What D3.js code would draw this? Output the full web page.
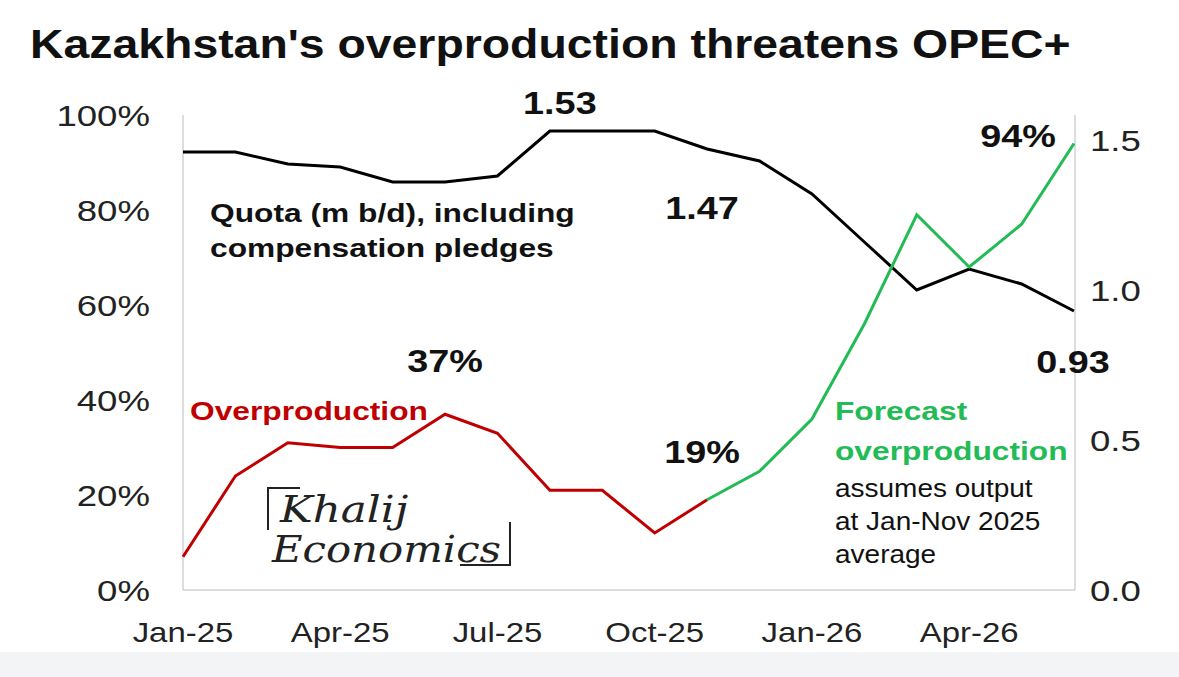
<!DOCTYPE html>
<html><head><meta charset="utf-8">
<script src="https://cdn.jsdelivr.net/npm/d3@7"></script>
<style>body{margin:0;background:#fff;font-family:"Liberation Sans",Arial,sans-serif}</style>
</head><body>
<script>
var months = ["Jan-25","Feb-25","Mar-25","Apr-25","May-25","Jun-25","Jul-25","Aug-25","Sep-25","Oct-25","Nov-25","Dec-25","Jan-26","Feb-26","Mar-26","Apr-26","May-26","Jun-26"];
var quota = [1.46,1.46,1.42,1.41,1.36,1.36,1.38,1.53,1.53,1.53,1.47,1.43,1.32,1.16,1.00,1.07,1.02,0.93];
var overActual = [7,24,31,30,30,37,33,21,21,12,19];
var overForecast = [19,25,36,56,79,68,77,94];
var leftTicks = [0,20,40,60,80,100];
var rightTicks = [0,0.5,1.0,1.5];
var xTickLabels = ["Jan-25","Apr-25","Jul-25","Oct-25","Jan-26","Apr-26"];

var W = 1179, H = 677, SX = 1.22;
var svg = d3.select("body").append("svg").attr("width", W).attr("height", H);
svg.append("rect").attr("x",0).attr("y",652).attr("width",W).attr("height",H-652).attr("fill","#f3f4f6");

var x = d3.scalePoint().domain(months).range([183, 1074]);
var yL = d3.scaleLinear().domain([0,100]).range([590,115]);
var yR = d3.scaleLinear().domain([0,1.5]).range([590,140]);

// stretched text helper
function t(xp,yp,s,opt){opt=opt||{};
  svg.append("text").attr("transform","translate("+xp+","+yp+") scale("+(opt.sx||SX)+",1)")
    .attr("font-size",opt.size||29).attr("font-weight",opt.normal?"normal":"bold")
    .attr("fill",opt.fill||"#111").attr("text-anchor",opt.anchor||"start").text(s);}

t(30,58,"Kazakhstan's overproduction threatens OPEC+",{size:40,sx:1.16});

svg.append("line").attr("x1",183).attr("x2",183).attr("y1",115).attr("y2",590).attr("stroke","#bbb");
svg.append("line").attr("x1",1075).attr("x2",1075).attr("y1",115).attr("y2",590).attr("stroke","#bbb");
svg.append("line").attr("x1",183).attr("x2",1075).attr("y1",590).attr("y2",590).attr("stroke","#bbb");
leftTicks.forEach(d=>t(150,yL(d)+11,d+"%",{anchor:"end",normal:true,size:30,fill:"#222"}));
rightTicks.forEach(d=>t(1090,yR(d)+11,d.toFixed(1),{normal:true,size:30,fill:"#222"}));
xTickLabels.forEach(d=>t(x(d),642,d,{anchor:"middle",normal:true,size:27,fill:"#222"}));

var lq = d3.line().x((d,i)=>x(months[i])).y(d=>yR(d));
svg.append("path").attr("d",lq(quota)).attr("fill","none").attr("stroke","#000").attr("stroke-width",3);
var la = d3.line().x((d,i)=>x(months[i])).y(d=>yL(d));
svg.append("path").attr("d",la(overActual)).attr("fill","none").attr("stroke","#c00000").attr("stroke-width",3);
var lf = d3.line().x((d,i)=>x(months[i+10])).y(d=>yL(d));
svg.append("path").attr("d",lf(overForecast)).attr("fill","none").attr("stroke","#22bb55").attr("stroke-width",3);

t(x("Aug-25")+10,yR(1.53)-17,"1.53",{anchor:"middle",size:31});
t(x("Nov-25")-5,yR(1.47)+70,"1.47",{anchor:"middle",size:31});
t(1073,yR(0.93)+62,"0.93",{anchor:"middle",size:31});
t(x("Jun-25"),yL(37)-42,"37%",{anchor:"middle",size:31});
t(x("Nov-25")-5,yL(19)-37,"19%",{anchor:"middle",size:31});
t(x("Jun-26")-56,yL(94)+3,"94%",{anchor:"middle",size:31});
t(210,222,"Quota (m b/d), including",{size:26});
t(210,257,"compensation pledges",{size:26});
t(190,420,"Overproduction",{size:26,fill:"#c00000"});
t(835,420,"Forecast",{size:26,fill:"#22bb55"});
t(835,460,"overproduction",{size:26,fill:"#22bb55"});
t(835,497,"assumes output",{size:25,normal:true,sx:1.12});
t(835,530,"at Jan-Nov 2025",{size:25,normal:true,sx:1.12});
t(835,563,"average",{size:25,normal:true,sx:1.12});

// logo
var g = svg.append("g");
g.append("path").attr("d","M268,530 L268,488 L300,488 M510,522 L510,565 L460,565").attr("fill","none").attr("stroke","#222").attr("stroke-width",2);
g.append("text").attr("transform","translate(280,522) scale(1.15,1)").attr("font-size",38).attr("font-family","DejaVu Serif").attr("font-style","italic").attr("fill","#222").text("Khalij");
g.append("text").attr("transform","translate(272,562) scale(1.1,1)").attr("font-size",38).attr("font-family","DejaVu Serif").attr("font-style","italic").attr("fill","#222").text("Economics");
</script>
</body></html>
